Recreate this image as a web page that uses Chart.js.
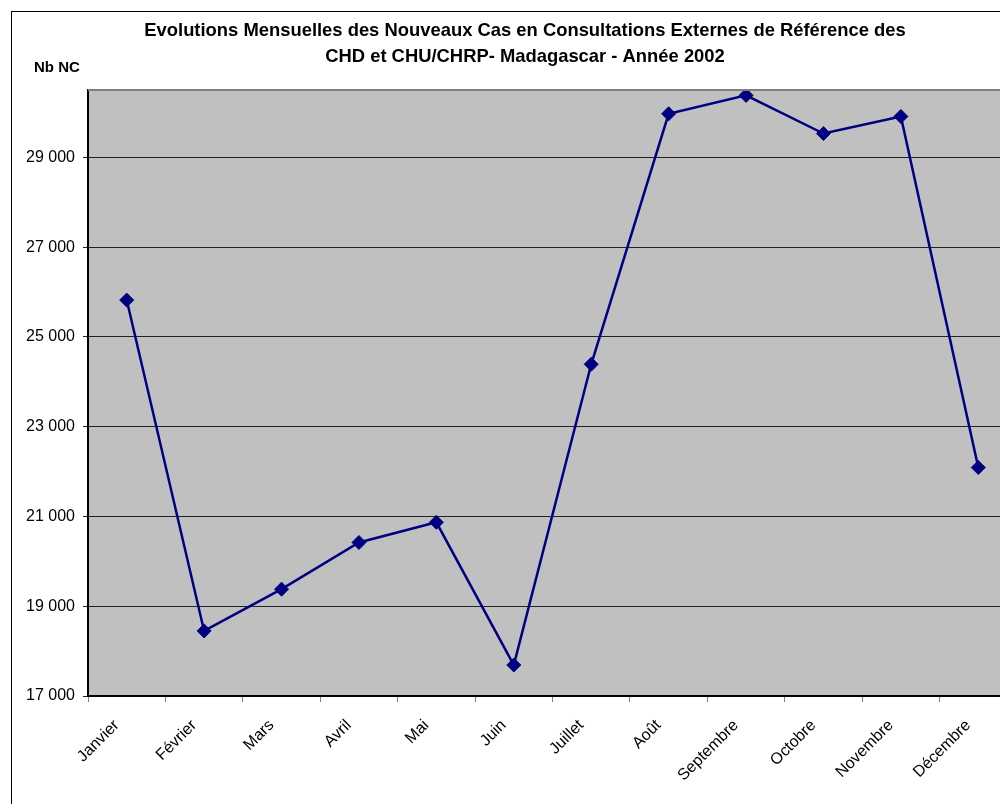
<!DOCTYPE html>
<html>
<head>
<meta charset="utf-8">
<script src="https://cdn.jsdelivr.net/npm/chart.js@4"></script>
<style>
  html, body { margin: 0; padding: 0; background: #fff; overflow: hidden; }
  #wrap { position: absolute; left: 0; top: 0; width: 1050px; height: 830px; }
</style>
</head>
<body>
<div id="wrap"><canvas id="chart"></canvas></div>
<script>
// mois
const mois = ["Janvier", "Février", "Mars", "Avril", "Mai", "Juin", "Juillet",
  "Août", "Septembre", "Octobre", "Novembre", "Décembre"];
// nouveaux cas (Nb NC)
const nouveauxCas = [25820, 18450, 19380, 20420, 20870, 17690, 24390,
  29970, 30380, 29530, 29910, 22090];
// graduations axe Y
const yTicks = [17000, 19000, 21000, 23000, 25000, 27000, 29000];
const titre = [
  "Evolutions Mensuelles des Nouveaux Cas en Consultations Externes de Référence des",
  "CHD et CHU/CHRP- Madagascar - Année 2002"
];

// fond gris + bordures, "Nb NC"
const decor = {
  id: "decor",
  beforeDraw(chart) {
    const { ctx, chartArea } = chart;
    ctx.save();
    ctx.fillStyle = "#c0c0c0";
    ctx.fillRect(chartArea.left, chartArea.top,
      chartArea.right - chartArea.left, chartArea.bottom - chartArea.top);
    ctx.strokeStyle = "#000";
    ctx.lineWidth = 1;
    ctx.strokeRect(11.5, 11.5, 1060, 850);
    ctx.restore();
  },
  afterDraw(chart) {
    const { ctx, chartArea } = chart;
    ctx.save();
    ctx.strokeStyle = "#808080";
    ctx.lineWidth = 2;
    ctx.beginPath();
    ctx.moveTo(chartArea.left, chartArea.top);
    ctx.lineTo(chartArea.right + 20, chartArea.top);
    ctx.stroke();
    ctx.fillStyle = "#000";
    ctx.font = "bold 15px 'Liberation Sans', Arial, sans-serif";
    ctx.textBaseline = "middle";
    ctx.textAlign = "left";
    ctx.fillText("Nb NC", 34, 68);
    ctx.restore();
  }
};

const ctx = document.getElementById("chart").getContext("2d");
new Chart(ctx, {
  type: "line",
  data: {
    labels: mois,
    datasets: [{
      label: "Nb NC",
      data: nouveauxCas,
      borderColor: "#000080",
      backgroundColor: "#000080",
      borderWidth: 2.5,
      pointStyle: "rectRot",
      pointRadius: 7,
      pointBorderWidth: 1,
      pointBorderColor: "#000080",
      pointBackgroundColor: "#000080",
      tension: 0,
    }],
  },
  options: {
    responsive: true,
    maintainAspectRatio: false,
    animation: false,
    layout: { padding: 0 },
    plugins: {
      legend: { display: false },
      tooltip: { enabled: false },
      title: {
        display: true,
        text: titre,
        color: "#000",
        font: { family: "'Liberation Sans', Arial, sans-serif", size: 18.4, weight: "bold", lineHeight: 1.413 },
        padding: { top: 18, bottom: 20 },
      },
    },
    scales: {
      x: {
        offset: true,
        grid: { offset: true, drawOnChartArea: false, drawTicks: true, tickLength: 6, color: "#808080" },
        border: { color: "#000", width: 2 },
        ticks: {
          color: "#000",
          minRotation: 45,
          maxRotation: 45,
          padding: 14,
          labelOffset: -10,
          font: { family: "'Liberation Sans', Arial, sans-serif", size: 16 },
        },
        afterFit(scale) { scale.height = 134; },
      },
      y: {
        min: 17000,
        max: 30500,
        afterBuildTicks(scale) { scale.ticks = yTicks.map(v => ({ value: v })); },
        grid: { color: "#222", lineWidth: 1, tickLength: 5, drawTicks: true },
        border: { color: "#000", width: 2 },
        ticks: {
          color: "#000",
          padding: 8,
          font: { family: "'Liberation Sans', Arial, sans-serif", size: 16 },
          callback: (v) => String(v).replace(/\B(?=(\d{3})+(?!\d))/g, " "),
        },
        afterFit(scale) { scale.width = 88; },
      },
      // axe vide à droite : réserve la marge hors cadre, le titre reste centré
      droite: {
        position: "right",
        min: 17000,
        max: 30500,
        grid: { display: false },
        border: { display: false },
        ticks: { display: false },
        afterFit(scale) { scale.width = 33; },
      },
    },
  },
  plugins: [decor],
});
</script>
</body>
</html>
